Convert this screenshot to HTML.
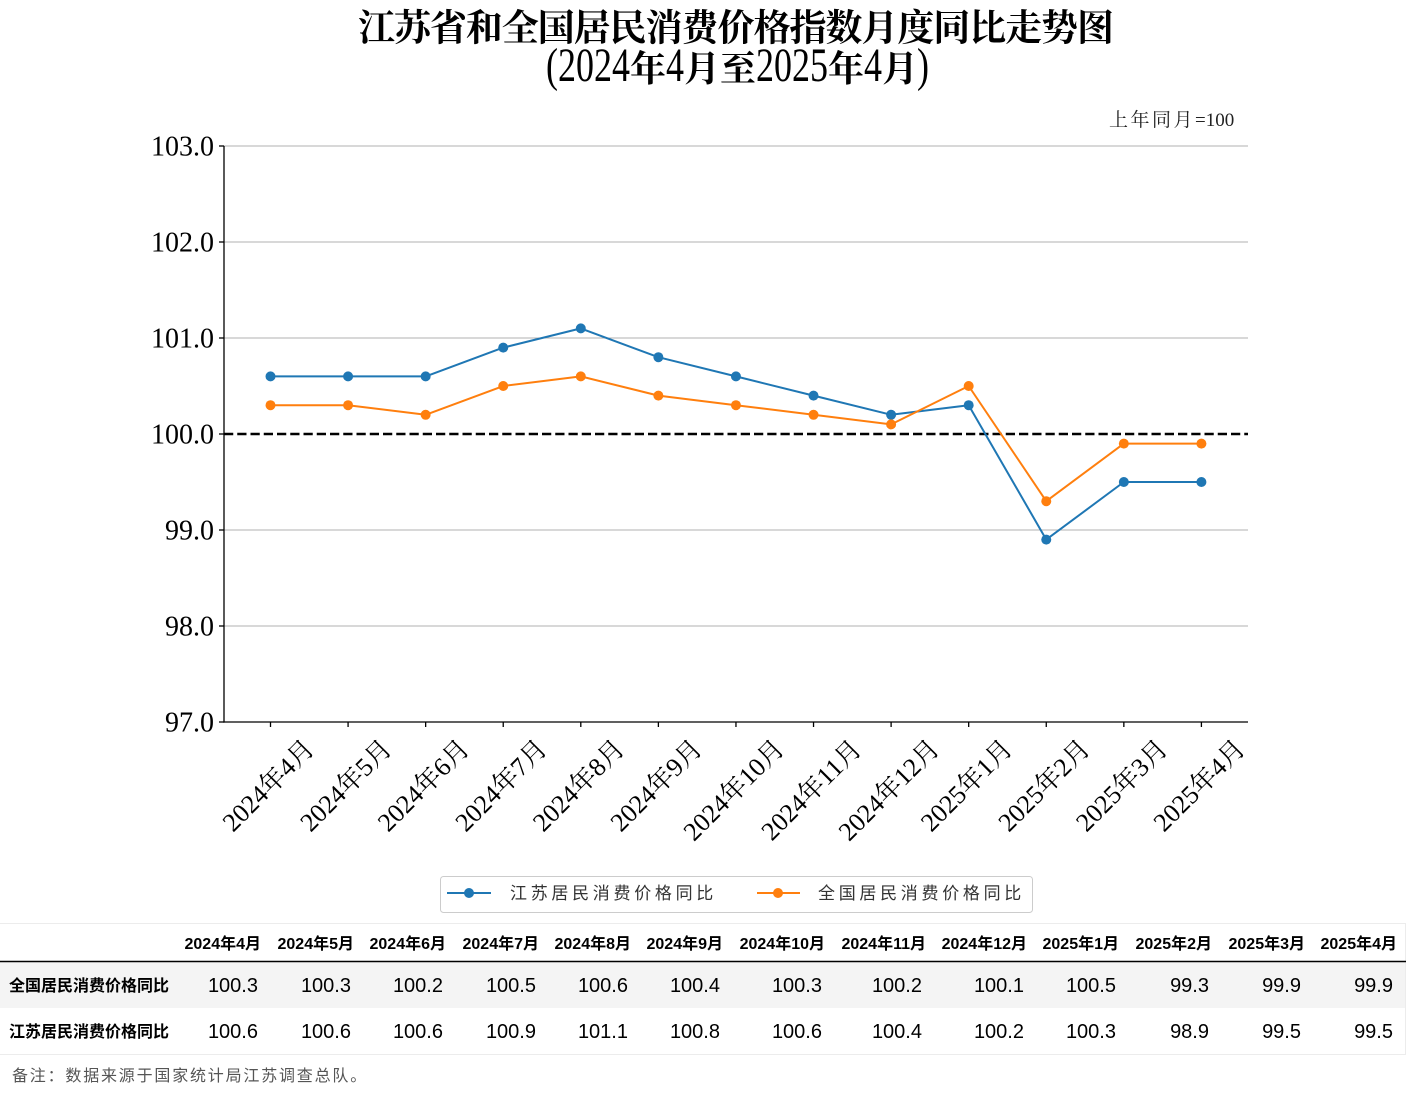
<!DOCTYPE html>
<html><head><meta charset="utf-8"><style>
html,body{margin:0;padding:0;background:#fff;}
svg{display:block;}
</style></head><body>
<svg width="1406" height="1106" viewBox="0 0 1406 1106" xmlns="http://www.w3.org/2000/svg">
<rect width="1406" height="1106" fill="#fff"/>
<!-- Title -->
<text x="736" y="40.5" text-anchor="middle" textLength="756" lengthAdjust="spacing" font-family="'Liberation Serif','Noto Serif CJK SC',serif" font-weight="bold" font-size="37" fill="#000">江苏省和全国居民消费价格指数月度同比走势图</text>
<!-- Subtitle -->
<g font-family="'Liberation Serif','Noto Serif CJK SC',serif" fill="#000">
<text transform="translate(546,81) scale(0.75,1)" font-size="48">(</text>
<text transform="translate(558,81) scale(0.75,1)" font-size="48">2024</text>
<text x="630" y="81" font-size="36" font-weight="bold">年</text>
<text transform="translate(666,81) scale(0.75,1)" font-size="48">4</text>
<text x="684" y="81" font-size="36" font-weight="bold">月</text>
<text x="720" y="81" font-size="36" font-weight="bold">至</text>
<text transform="translate(756,81) scale(0.75,1)" font-size="48">2025</text>
<text x="828" y="81" font-size="36" font-weight="bold">年</text>
<text transform="translate(864,81) scale(0.75,1)" font-size="48">4</text>
<text x="882" y="81" font-size="36" font-weight="bold">月</text>
<text transform="translate(917,81) scale(0.75,1)" font-size="48">)</text>
</g>
<!-- unit note -->
<text x="1109" y="126" font-family="'Liberation Serif','Noto Serif CJK SC',serif" font-size="19" fill="#222"><tspan letter-spacing="2.5">上年同月</tspan><tspan>=100</tspan></text>

<!-- gridlines -->
<g stroke="#b0b0b0" stroke-width="1">
<line x1="224" y1="146" x2="1248" y2="146"/>
<line x1="224" y1="242" x2="1248" y2="242"/>
<line x1="224" y1="338" x2="1248" y2="338"/>
<line x1="224" y1="530" x2="1248" y2="530"/>
<line x1="224" y1="626" x2="1248" y2="626"/>
</g>
<!-- reference dashed line -->
<line x1="224" y1="434" x2="1248" y2="434" stroke="#000" stroke-width="2.5" stroke-dasharray="9.25 4"/>

<!-- axes -->
<g stroke="#000" stroke-width="1.3">
<line x1="224" y1="146" x2="224" y2="722.6"/>
<line x1="223.4" y1="722" x2="1248" y2="722"/>
<line x1="219" y1="146" x2="224" y2="146"/>
<line x1="219" y1="242" x2="224" y2="242"/>
<line x1="219" y1="338" x2="224" y2="338"/>
<line x1="219" y1="434" x2="224" y2="434"/>
<line x1="219" y1="530" x2="224" y2="530"/>
<line x1="219" y1="626" x2="224" y2="626"/>
<line x1="219" y1="722" x2="224" y2="722"/>
<line x1="270.5" y1="722" x2="270.5" y2="727"/>
<line x1="348.08" y1="722" x2="348.08" y2="727"/>
<line x1="425.65" y1="722" x2="425.65" y2="727"/>
<line x1="503.23" y1="722" x2="503.23" y2="727"/>
<line x1="580.8" y1="722" x2="580.8" y2="727"/>
<line x1="658.38" y1="722" x2="658.38" y2="727"/>
<line x1="735.96" y1="722" x2="735.96" y2="727"/>
<line x1="813.53" y1="722" x2="813.53" y2="727"/>
<line x1="891.11" y1="722" x2="891.11" y2="727"/>
<line x1="968.68" y1="722" x2="968.68" y2="727"/>
<line x1="1046.26" y1="722" x2="1046.26" y2="727"/>
<line x1="1123.84" y1="722" x2="1123.84" y2="727"/>
<line x1="1201.41" y1="722" x2="1201.41" y2="727"/>
</g>

<!-- y tick labels -->
<g font-family="'Liberation Serif',serif" font-size="28" fill="#000" text-anchor="end">
<text x="214" y="155.5">103.0</text>
<text x="214" y="251.5">102.0</text>
<text x="214" y="347.5">101.0</text>
<text x="214" y="443.5">100.0</text>
<text x="214" y="539.5">99.0</text>
<text x="214" y="635.5">98.0</text>
<text x="214" y="731.5">97.0</text>
</g>

<!-- x tick labels -->
<g font-family="'Liberation Serif','Noto Serif CJK SC',serif" font-size="26" fill="#000" text-anchor="middle" dominant-baseline="central">
<text x="268.5" y="785.5" transform="rotate(-45 268.5 785.5)">2024年4月</text>
<text x="346.08" y="785.5" transform="rotate(-45 346.08 785.5)">2024年5月</text>
<text x="423.65" y="785.5" transform="rotate(-45 423.65 785.5)">2024年6月</text>
<text x="501.23" y="785.5" transform="rotate(-45 501.23 785.5)">2024年7月</text>
<text x="578.8" y="785.5" transform="rotate(-45 578.8 785.5)">2024年8月</text>
<text x="656.38" y="785.5" transform="rotate(-45 656.38 785.5)">2024年9月</text>
<text x="733.96" y="790.1" transform="rotate(-45 733.96 790.1)">2024年10月</text>
<text x="811.53" y="790.1" transform="rotate(-45 811.53 790.1)">2024年11月</text>
<text x="889.11" y="790.1" transform="rotate(-45 889.11 790.1)">2024年12月</text>
<text x="966.68" y="785.5" transform="rotate(-45 966.68 785.5)">2025年1月</text>
<text x="1044.26" y="785.5" transform="rotate(-45 1044.26 785.5)">2025年2月</text>
<text x="1121.84" y="785.5" transform="rotate(-45 1121.84 785.5)">2025年3月</text>
<text x="1199.41" y="785.5" transform="rotate(-45 1199.41 785.5)">2025年4月</text>
</g>

<!-- Jiangsu series -->
<polyline fill="none" stroke="#1f77b4" stroke-width="2" stroke-linejoin="round" points="270.5,376.4 348.08,376.4 425.65,376.4 503.23,347.6 580.8,328.4 658.38,357.2 735.96,376.4 813.53,395.6 891.11,414.8 968.68,405.2 1046.26,539.6 1123.84,482 1201.41,482"/>
<g fill="#1f77b4">
<circle cx="270.5" cy="376.4" r="5"/><circle cx="348.08" cy="376.4" r="5"/><circle cx="425.65" cy="376.4" r="5"/><circle cx="503.23" cy="347.6" r="5"/><circle cx="580.8" cy="328.4" r="5"/><circle cx="658.38" cy="357.2" r="5"/><circle cx="735.96" cy="376.4" r="5"/><circle cx="813.53" cy="395.6" r="5"/><circle cx="891.11" cy="414.8" r="5"/><circle cx="968.68" cy="405.2" r="5"/><circle cx="1046.26" cy="539.6" r="5"/><circle cx="1123.84" cy="482" r="5"/><circle cx="1201.41" cy="482" r="5"/>
</g>
<!-- National series -->
<polyline fill="none" stroke="#ff7f0e" stroke-width="2" stroke-linejoin="round" points="270.5,405.2 348.08,405.2 425.65,414.8 503.23,386 580.8,376.4 658.38,395.6 735.96,405.2 813.53,414.8 891.11,424.4 968.68,386 1046.26,501.2 1123.84,443.6 1201.41,443.6"/>
<g fill="#ff7f0e">
<circle cx="270.5" cy="405.2" r="5"/><circle cx="348.08" cy="405.2" r="5"/><circle cx="425.65" cy="414.8" r="5"/><circle cx="503.23" cy="386" r="5"/><circle cx="580.8" cy="376.4" r="5"/><circle cx="658.38" cy="395.6" r="5"/><circle cx="735.96" cy="405.2" r="5"/><circle cx="813.53" cy="414.8" r="5"/><circle cx="891.11" cy="424.4" r="5"/><circle cx="968.68" cy="386" r="5"/><circle cx="1046.26" cy="501.2" r="5"/><circle cx="1123.84" cy="443.6" r="5"/><circle cx="1201.41" cy="443.6" r="5"/>
</g>

<!-- Legend -->
<rect x="440.5" y="876.5" width="592" height="36" rx="3" ry="3" fill="#fff" stroke="#cccccc" stroke-width="1"/>
<line x1="447" y1="893" x2="491" y2="893" stroke="#1f77b4" stroke-width="2"/>
<circle cx="469" cy="893" r="5" fill="#1f77b4"/>
<line x1="757" y1="893" x2="800" y2="893" stroke="#ff7f0e" stroke-width="2"/>
<circle cx="778" cy="893" r="5" fill="#ff7f0e"/>
<g font-family="'Liberation Sans','Noto Sans CJK SC',sans-serif" font-size="17" fill="#333" letter-spacing="3.7">
<text x="510" y="899">江苏居民消费价格同比</text>
<text x="818" y="899">全国居民消费价格同比</text>
</g>

<!-- Table -->
<rect x="0" y="962" width="1406" height="46" fill="#f4f4f4"/>
<line x1="0" y1="923.5" x2="1406" y2="923.5" stroke="#ececec" stroke-width="1"/>
<line x1="0" y1="1054.5" x2="1406" y2="1054.5" stroke="#ececec" stroke-width="1"/>
<line x1="1405.5" y1="923" x2="1405.5" y2="1055" stroke="#ececec" stroke-width="1"/>
<line x1="0" y1="961.5" x2="1406" y2="961.5" stroke="#000" stroke-width="1.5"/>

<g font-family="'Liberation Sans','Noto Sans CJK SC',sans-serif" font-size="16" font-weight="bold" fill="#000" text-anchor="end">
<text x="261" y="949">2024年4月</text>
<text x="354" y="949">2024年5月</text>
<text x="446" y="949">2024年6月</text>
<text x="539" y="949">2024年7月</text>
<text x="631" y="949">2024年8月</text>
<text x="723" y="949">2024年9月</text>
<text x="825" y="949">2024年10月</text>
<text x="926" y="949">2024年11月</text>
<text x="1027" y="949">2024年12月</text>
<text x="1119" y="949">2025年1月</text>
<text x="1212" y="949">2025年2月</text>
<text x="1305" y="949">2025年3月</text>
<text x="1397" y="949">2025年4月</text>
</g>
<g font-family="'Liberation Sans','Noto Sans CJK SC',sans-serif" font-size="16" font-weight="bold" fill="#000">
<text x="9" y="991">全国居民消费价格同比</text>
<text x="9" y="1037">江苏居民消费价格同比</text>
</g>
<g font-family="'Liberation Sans',sans-serif" font-size="20" fill="#000" text-anchor="end">
<text x="258" y="992">100.3</text>
<text x="351" y="992">100.3</text>
<text x="443" y="992">100.2</text>
<text x="536" y="992">100.5</text>
<text x="628" y="992">100.6</text>
<text x="720" y="992">100.4</text>
<text x="822" y="992">100.3</text>
<text x="922" y="992">100.2</text>
<text x="1024" y="992">100.1</text>
<text x="1116" y="992">100.5</text>
<text x="1209" y="992">99.3</text>
<text x="1301" y="992">99.9</text>
<text x="1393" y="992">99.9</text>

<text x="258" y="1038">100.6</text>
<text x="351" y="1038">100.6</text>
<text x="443" y="1038">100.6</text>
<text x="536" y="1038">100.9</text>
<text x="628" y="1038">101.1</text>
<text x="720" y="1038">100.8</text>
<text x="822" y="1038">100.6</text>
<text x="922" y="1038">100.4</text>
<text x="1024" y="1038">100.2</text>
<text x="1116" y="1038">100.3</text>
<text x="1209" y="1038">98.9</text>
<text x="1301" y="1038">99.5</text>
<text x="1393" y="1038">99.5</text>
</g>

<!-- Footnote -->
<text x="12" y="1081" font-family="'Liberation Sans','Noto Sans CJK SC',sans-serif" font-size="16" fill="#555" letter-spacing="1.8">备注：数据来源于国家统计局江苏调查总队。</text>
</svg>
</body></html>
